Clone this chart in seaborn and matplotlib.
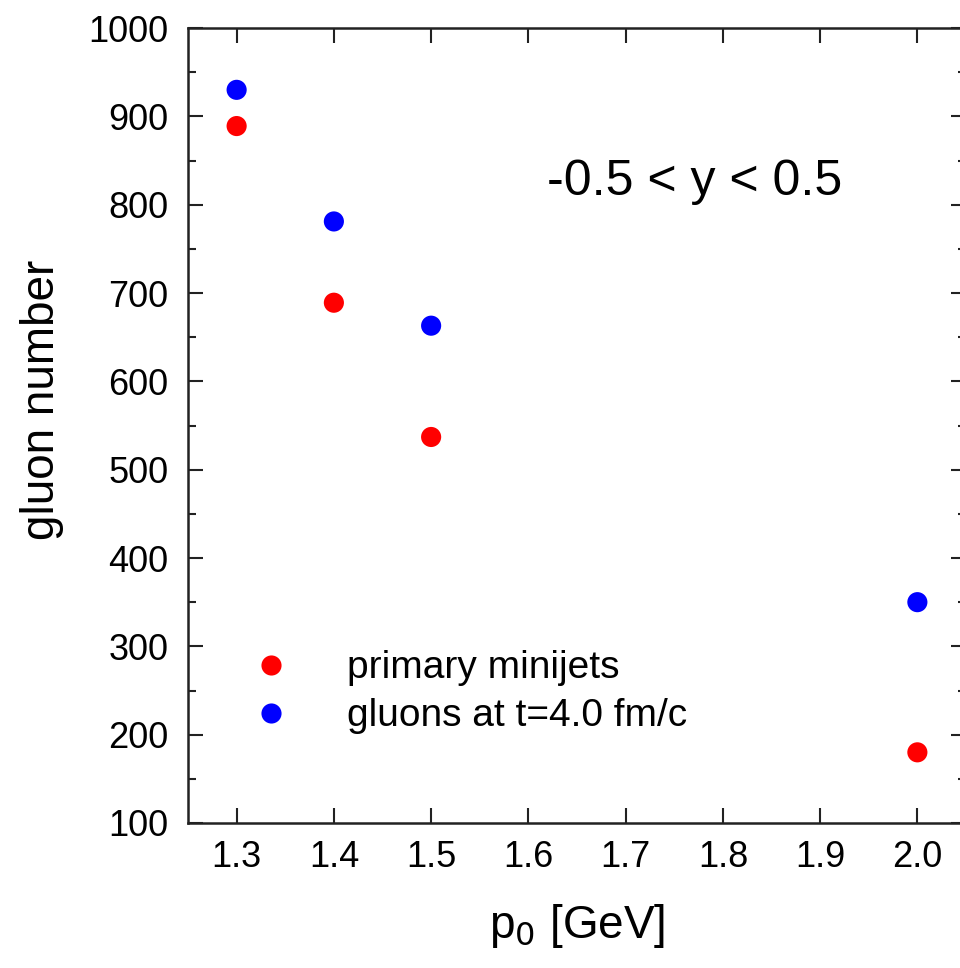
# gluon_number.py

# ====== IMPORTS ======
import pandas as pd
import seaborn as sns
import matplotlib.pyplot as plt
from matplotlib.ticker import MultipleLocator

# ====== DATA ======
p0 = [1.3, 1.4, 1.5, 2.0]
primary_minijets = [889, 689, 537, 180]
gluons_t4 = [930, 781, 663, 350]

label_primary = "primary minijets"
label_gluons = "gluons at t=4.0 fm/c"

df = pd.concat([
    pd.DataFrame({"p0": p0, "n": primary_minijets, "series": label_primary}),
    pd.DataFrame({"p0": p0, "n": gluons_t4, "series": label_gluons}),
])

# ====== STYLE ======
sns.set_style("ticks")
plt.rcParams['font.family'] = ['Liberation Sans', 'DejaVu Sans']
plt.rcParams['text.color'] = 'black'
plt.rcParams['axes.labelcolor'] = 'black'

# ====== PLOT ======
fig = plt.figure(figsize=(9.6, 9.68), dpi=100)
ax = fig.add_axes([188 / 960, 145 / 968, 778 / 960, 795 / 968])

sns.scatterplot(data=df, x="p0", y="n", hue="series",
                palette={label_primary: "red", label_gluons: "blue"},
                s=210, edgecolor="none", ax=ax)

ax.set_xlim(1.25, 2.05)
ax.set_ylim(100, 1000)
ax.xaxis.set_major_locator(MultipleLocator(0.1))
ax.yaxis.set_major_locator(MultipleLocator(100))
ax.yaxis.set_minor_locator(MultipleLocator(50))
ax.tick_params(which="both", direction="in", top=True, right=True,
               width=1.5, labelsize=26, colors="#222222", labelcolor="black")
ax.tick_params(which="major", length=11)
ax.tick_params(axis="x", which="major", pad=12)
ax.tick_params(axis="y", which="major", pad=14)
ax.tick_params(which="minor", length=6)
ax.set_xticks([1.3, 1.4, 1.5, 1.6, 1.7, 1.8, 1.9, 2.0])
ax.set_xticklabels(["1.3", "1.4", "1.5", "1.6", "1.7", "1.8", "1.9", "2.0"])
for sp in ax.spines.values():
    sp.set_linewidth(1.8)
    sp.set_color("#222222")

ax.set_xlabel("p$_0$ [GeV]", fontsize=33, labelpad=20)
ax.set_ylabel("gluon number", fontsize=33)
ax.yaxis.set_label_coords(-0.16, 0.532)

ax.text(1.771, 826, "-0.5 < y < 0.5", fontsize=36, ha="center", va="center")

ax.legend(loc="upper left", bbox_to_anchor=(0.082, 0.217), frameon=False,
          fontsize=28, handlelength=1.0, handletextpad=1.45,
          labelspacing=0.3, borderpad=0, borderaxespad=0,
          markerscale=1.0)

plt.savefig("out.png", dpi=100)
plt.close()
